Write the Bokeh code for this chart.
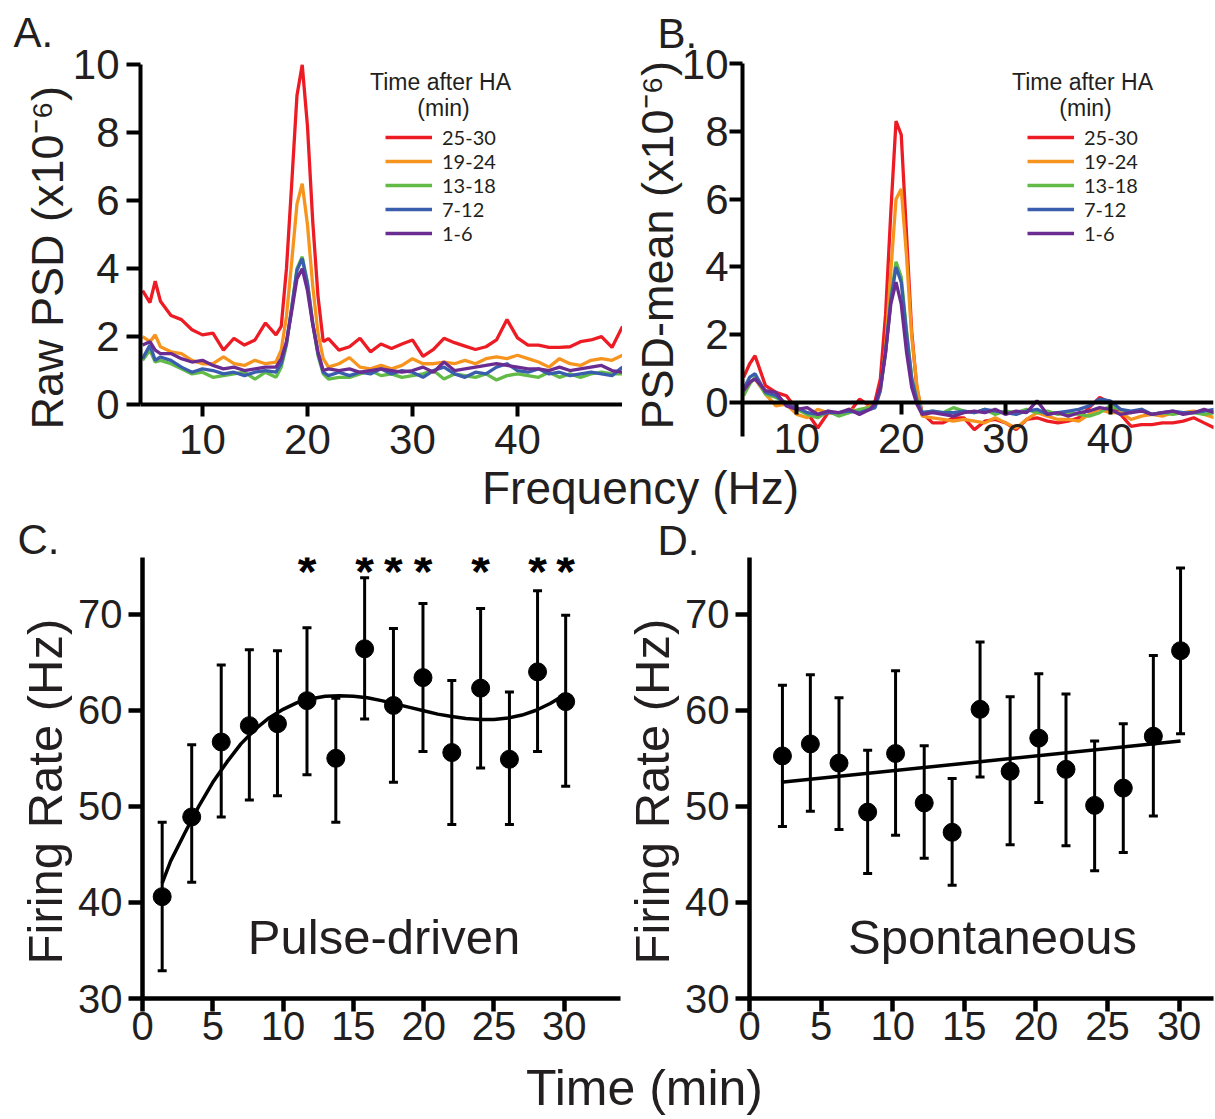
import math
from bokeh.plotting import figure
from bokeh.models import (Range1d, LinearAxis, FixedTicker, Label, Legend, LegendItem,
                          ColumnDataSource, Whisker, TeeHead)
from bokeh.layouts import column, row
from bokeh.embed import file_html
from bokeh.resources import INLINE
from bokeh.core.properties import value

# ---------------- Panel A / B : power spectral density ----------------
freq_a = [4.3, 5, 5.5, 6, 7, 8, 9, 10, 11, 12, 13, 14, 15, 16, 17,
          17.5, 18, 18.5, 19, 19.5, 20, 20.5, 21, 21.5,
          22, 23, 24, 25, 26, 27, 28, 29, 30, 31, 32, 33, 34, 35, 36, 37, 38, 39,
          40, 41, 42, 43, 44, 45, 46, 47, 48, 49, 50]
freq_b = [4.9, 5.5, 6, 7, 8, 9, 10, 11, 12, 13, 14, 15, 16, 17,
          17.5, 18, 18.5, 19, 19.5, 20, 20.5, 21, 21.5,
          22, 23, 24, 25, 26, 27, 28, 29, 30, 31, 32, 33, 34, 35, 36, 37, 38, 39,
          40, 41, 42, 43, 44, 45, 46, 47, 48, 49, 50]
series_labels = ["25-30", "19-24", "13-18", "7-12", "1-6"]

raw_25_30 = [3.35, 3.0, 3.63, 3.04, 2.62, 2.5, 2.2, 2.05, 2.1, 1.6, 1.95, 1.75, 1.9, 2.4, 2.05,
             2.3, 4.0, 6.5, 9.1, 10.0, 8.2, 5.4, 3.2, 1.85,
             1.94, 1.6, 1.7, 1.95, 1.55, 1.78, 1.65, 1.78, 1.9, 1.42, 1.62, 1.95, 1.82, 1.72, 1.62,
             1.7, 1.9, 2.5, 1.96, 1.75, 1.75, 1.68, 1.68, 1.7, 1.85, 1.9, 2.0, 1.68, 2.3]
raw_19_24 = [2.0, 1.85, 2.05, 1.7, 1.55, 1.5, 1.3, 1.2, 1.2, 1.4, 1.2, 1.15, 1.3, 1.2, 1.25,
             1.6, 2.6, 4.2, 5.9, 6.5, 5.3, 3.5, 2.1, 1.35,
             1.1, 1.2, 1.38, 1.1, 1.05, 1.15, 1.05, 1.15, 1.35, 1.2, 1.2, 1.25, 1.2, 1.3, 1.2,
             1.35, 1.4, 1.35, 1.45, 1.35, 1.25, 1.1, 1.35, 1.2, 1.15, 1.3, 1.35, 1.3, 1.45]
raw_13_18 = [1.3, 1.6, 1.25, 1.3, 1.2, 1.05, 0.9, 0.95, 0.8, 0.85, 0.9, 0.95, 0.75, 0.95, 0.8,
             1.1, 1.75, 2.85, 4.0, 4.35, 3.6, 2.4, 1.45, 0.9,
             0.75, 0.8, 0.8, 0.9, 1.0, 0.85, 0.9, 0.8, 0.85, 0.9, 1.0, 0.75, 0.9, 0.85, 0.8,
             0.9, 0.72, 0.85, 0.9, 0.85, 0.8, 0.95, 0.8, 0.9, 0.8, 0.9, 0.95, 0.9, 0.9]
raw_7_12 = [1.35, 1.75, 1.3, 1.4, 1.3, 1.1, 0.95, 1.05, 1.0, 0.9, 0.95, 0.85, 0.95, 1.0, 0.95,
            1.2, 1.8, 2.85, 3.95, 4.3, 3.55, 2.4, 1.5, 0.95,
            0.85, 0.95, 0.85, 0.95, 0.9, 1.05, 0.9, 1.0, 0.95, 0.8, 1.0, 1.1, 0.9, 0.8, 0.95,
            0.9, 1.1, 1.2, 1.0, 0.95, 1.05, 0.9, 0.95, 0.85, 0.9, 0.95, 0.9, 0.85, 1.1]
raw_1_6 = [1.75, 1.85, 1.6, 1.5, 1.5, 1.35, 1.25, 1.3, 1.15, 1.05, 1.1, 1.0, 1.05, 1.1, 1.1,
           1.35, 1.85, 2.75, 3.7, 4.0, 3.35, 2.35, 1.55, 1.0,
           1.05, 1.0, 1.05, 0.95, 1.0, 1.05, 1.0, 0.95, 1.0, 1.1, 0.95, 1.25, 1.0, 1.05, 1.1,
           1.15, 1.2, 1.15, 1.1, 1.05, 1.05, 1.0, 1.1, 1.0, 1.05, 1.1, 1.15, 1.0, 0.95]

dm_25_30 = [0.74, 1.15, 1.38, 0.5, 0.3, 0.2, -0.2, -0.3, -0.75, -0.3, -0.3, -0.3, 0.1, -0.1,
            0.05, 0.7, 2.6, 5.6, 8.3, 7.9, 5.0, 2.1, 0.4,
            -0.3, -0.6, -0.6, -0.45, -0.45, -0.8, -0.55, -0.5, -0.6, -0.8, -0.5, -0.45, -0.55,
            -0.6, -0.55, -0.45, -0.15, 0.15, 0.0, -0.35, -0.7, -0.65, -0.65, -0.6, -0.6, -0.55,
            -0.45, -0.6, -0.75]
dm_19_24 = [0.35, 0.6, 0.7, 0.25, -0.1, -0.05, -0.35, -0.45, -0.2, -0.3, -0.35, -0.2, -0.25, -0.1,
            -0.1, 0.33, 1.6, 3.85, 6.0, 6.3, 4.35, 1.95, 0.5,
            -0.4, -0.45, -0.5, -0.55, -0.5, -0.55, -0.6, -0.45, -0.6, -0.75, -0.5, -0.3, -0.4,
            -0.5, -0.5, -0.55, -0.35, -0.2, -0.3, -0.3, -0.5, -0.4, -0.35, -0.4, -0.3, -0.3,
            -0.25, -0.35, -0.45]
dm_13_18 = [0.2, 0.55, 0.75, 0.25, 0.15, 0.0, -0.2, -0.35, -0.45, -0.25, -0.4, -0.3, -0.2, -0.15,
            -0.1, 0.4, 1.5, 3.1, 4.15, 3.7, 2.15, 0.75, 0.1,
            -0.3, -0.25, -0.3, -0.15, -0.25, -0.3, -0.2, -0.35, -0.25, -0.3, -0.2, -0.3, -0.25,
            -0.35, -0.3, -0.35, -0.4, -0.3, -0.1, -0.2, -0.3, -0.2, -0.35, -0.3, -0.35, -0.3,
            -0.3, -0.35, -0.3]
dm_7_12 = [0.4, 0.75, 0.85, 0.3, 0.2, -0.05, -0.15, -0.3, -0.35, -0.3, -0.3, -0.25, -0.3, -0.2,
           -0.15, 0.37, 1.45, 3.0, 4.0, 3.55, 2.05, 0.7, 0.05,
           -0.3, -0.25, -0.3, -0.3, -0.25, -0.3, -0.2, -0.25, -0.3, -0.35, -0.25, -0.2, -0.35,
           -0.3, -0.25, -0.2, -0.1, 0.1, 0.05, -0.2, -0.25, -0.2, -0.35, -0.3, -0.25, -0.3,
           -0.3, -0.25, -0.2]
dm_1_6 = [0.35, 0.6, 0.7, 0.35, 0.3, -0.1, -0.2, -0.15, -0.35, -0.25, -0.3, -0.2, -0.35, -0.2,
          -0.03, 0.45, 1.5, 2.9, 3.55, 2.9, 1.5, 0.45, -0.05,
          -0.35, -0.3, -0.35, -0.4, -0.3, -0.25, -0.3, -0.2, -0.35, -0.25, -0.3, 0.05, -0.35,
          -0.3, -0.4, -0.3, -0.25, -0.15, -0.2, -0.35, -0.3, -0.25, -0.35, -0.3, -0.25, -0.35,
          -0.3, -0.2, -0.3]

psd_ticks_x = [10, 20, 30, 40]
psd_ticks_y = [0, 2, 4, 6, 8, 10]

# ---------------- Panel C / D : firing rate ----------------
time_c = [1.4, 3.5, 5.6, 7.6, 9.6, 11.7, 13.75, 15.8, 17.85, 19.95, 22.0, 24.05, 26.1, 28.1, 30.1]
rate_c = [40.6, 48.9, 56.7, 58.4, 58.6, 61.0, 55.0, 66.4, 60.5, 63.4, 55.6, 62.3, 54.9, 64.0, 60.9]
upper_c = [48.35, 56.4, 64.7, 66.3, 66.2, 68.6, 61.25, 73.8, 68.5, 71.1, 63.1, 70.6, 61.9, 72.45, 69.9]
lower_c = [32.9, 42.1, 48.9, 50.65, 51.1, 53.3, 48.35, 59.1, 52.5, 55.7, 48.1, 54.0, 48.1, 55.7, 52.1]
signif_c = [0, 0, 0, 0, 0, 1, 0, 1, 1, 1, 0, 1, 0, 1, 1]
fit_x_c = [1.4, 2, 3, 4, 5, 6, 7, 8, 9, 10, 11, 12, 13, 14, 15, 16, 17, 18, 19, 20,
           21, 22, 23, 24, 25, 26, 27, 28, 29, 30]
fit_y_c = [42.0, 44.3, 47.2, 50.0, 52.5, 54.6, 56.5, 58.0, 59.2, 60.1, 60.8, 61.2, 61.45, 61.5,
           61.45, 61.3, 61.0, 60.65, 60.3, 59.95, 59.6, 59.35, 59.15, 59.05, 59.05, 59.2, 59.5,
           60.0, 60.7, 61.6]

time_d = [2.3, 4.25, 6.25, 8.25, 10.2, 12.2, 14.15, 16.1, 18.2, 20.2, 22.1, 24.1, 26.1, 28.2, 30.1]
rate_d = [55.25, 56.5, 54.5, 49.4, 55.5, 50.35, 47.3, 60.1, 53.65, 57.1, 53.85, 50.1, 51.9, 57.3, 66.2]
upper_d = [62.6, 63.7, 61.3, 55.85, 64.1, 56.3, 52.9, 67.1, 61.4, 63.8, 61.7, 56.8, 58.6, 65.7, 74.8]
lower_d = [47.9, 49.5, 47.6, 43.0, 47.0, 44.6, 41.8, 53.05, 46.0, 50.4, 45.9, 43.3, 45.2, 49.0, 57.55]
fit_x_d = [2.2, 30.1]
fit_y_d = [52.5, 56.8]

time_ticks = [0, 5, 10, 15, 20, 25, 30]
rate_ticks = [30, 40, 50, 60, 70]

# ---------------- styling ----------------
INK = "#231f20"
FONT = "Liberation Sans"
COLORS = ["#ED1C24", "#F7941D", "#62BB46", "#3A5DAE", "#6B2C91"]
STAR_LEVEL = 74.95
NB = "\u00a0"


def base_fig(w, h, xr, yr, left, right, top, bottom, x_axis=True):
    p = figure(width=w, height=h, x_range=Range1d(*xr), y_range=Range1d(*yr),
               toolbar_location=None, output_backend="svg",
               min_border_left=left, min_border_right=right,
               min_border_top=top, min_border_bottom=bottom,
               x_axis_location="below" if x_axis else None)
    p.grid.visible = False
    p.outline_line_color = None
    p.background_fill_color = "white"
    p.border_fill_color = "white"
    return p


def style_axis(ax, ticks, size, tick_out, standoff, lw=4):
    ax.ticker = FixedTicker(ticks=ticks)
    ax.axis_line_width = lw
    ax.axis_line_color = "black"
    ax.major_tick_line_width = lw
    ax.major_tick_line_color = "black"
    ax.major_tick_out = tick_out
    ax.major_tick_in = 0
    ax.minor_tick_line_color = None
    ax.major_label_text_font = FONT
    ax.major_label_text_font_size = size
    ax.major_label_text_color = INK
    ax.major_label_standoff = standoff


def zero_axis(p):
    # x axis pinned at y = 0, ticks and labels hanging below the line
    ax = LinearAxis(fixed_location=0)
    p.add_layout(ax, "above")
    style_axis(ax, psd_ticks_x, "42px", 0, -50)
    ax.major_tick_in = 12
    return ax


def axis_title(ax, text, size, standoff):
    ax.axis_label = text
    ax.axis_label_text_font = FONT
    ax.axis_label_text_font_size = size
    ax.axis_label_text_font_style = "normal"
    ax.axis_label_text_color = INK
    ax.axis_label_standoff = standoff


def add_text(p, x, y, text, size, align="center", font=FONT, style="normal"):
    p.add_layout(Label(x=x, y=y, x_units="screen", y_units="screen", text=text,
                       text_font=font, text_font_size=size, text_color=INK,
                       text_font_style=style, text_align=align, text_baseline="middle"))


def psd_panel(p, freqs, series, legend_loc, title_x, title_y):
    items = []
    for lab, ys, col in zip(series_labels, series, COLORS):
        r = p.line(freqs, ys, line_color=col, line_width=3.3)
        items.append(LegendItem(label=lab, renderers=[r]))
    leg = Legend(items=items, location=legend_loc, glyph_width=47, glyph_height=24,
                 label_height=24, label_standoff=10, spacing=0, padding=0, margin=0,
                 border_line_color=None, background_fill_alpha=0,
                 label_text_font="Lato", label_text_font_size="20px", label_text_color=INK)
    p.add_layout(leg)
    add_text(p, title_x, title_y, "Time after HA", "23px")
    add_text(p, title_x + 3, title_y - 26.5, "(min)", "23px")


# Panel A  (frame: y 61..466 px, value 0 at 404 px)
pA = base_fig(622, 417, (4.1, 50.0), (-1.826, 10.1), 140, 0, 12, 0, x_axis=False)
psd_panel(pA, freq_a, [raw_25_30, raw_19_24, raw_13_18, raw_7_12, raw_1_6], (245, 221), 300, 385)
zero_axis(pA)
style_axis(pA.yaxis[0], psd_ticks_y, "42px", 14, 7)
pA.yaxis[0].bounds = (0, 10)
axis_title(pA.yaxis[0], NB + "Raw PSD (x10\u207b\u2076)", "45px", -3)

# Panel B  (frame: y 61..466 px, value 0 at 402 px)
pB = base_fig(593, 417, (4.8, 49.9), (-1.887, 10.06), 120, 2, 12, 0, x_axis=False)
psd_panel(pB, freq_b, [dm_25_30, dm_19_24, dm_13_18, dm_7_12, dm_1_6], (285, 221), 340, 385)
zero_axis(pB)
style_axis(pB.yaxis[0], psd_ticks_y, "42px", 13, 1)
pB.yaxis[0].bounds = (-1, 10)
axis_title(pB.yaxis[0], NB * 3 + "PSD-mean (x10\u207b\u2076)", "45px", -4)


def rate_panel(p, t, r, up, lo, fx, fy, name, name_x):
    src = ColumnDataSource(dict(x=t, y=r, upper=up, lower=lo))
    p.line(fx, fy, line_color="black", line_width=3.5)
    p.add_layout(Whisker(base="x", upper="upper", lower="lower", source=src,
                         line_color="black", line_width=3,
                         upper_head=TeeHead(size=9, line_width=3, line_color="black"),
                         lower_head=TeeHead(size=9, line_width=3, line_color="black")))
    p.scatter("x", "y", source=src, size=18, color="black")
    style_axis(p.xaxis[0], time_ticks, "40px", 13, 0, lw=4.5)
    style_axis(p.yaxis[0], rate_ticks, "40px", 14, 6, lw=4.5)
    axis_title(p.yaxis[0], "Firing Rate (Hz)" + NB * 2, "49px", 3)
    add_text(p, name_x, 61.5, name, "49px")


# Panel C
pC = base_fig(622, 501, (0, 34), (30, 75.9), 142, 2, 0, 60)
rate_panel(pC, time_c, rate_c, upper_c, lower_c, fit_x_c, fit_y_c, "Pulse-driven", 241.5)
star_x = [t for t, s in zip(time_c, signif_c) if s]
pC.text(x=star_x, y=[STAR_LEVEL] * len(star_x), text=["*"] * len(star_x),
        text_font=value(FONT), text_font_size="48px", text_font_style="bold",
        text_color="black", text_align="center", text_baseline="middle", y_offset=5)

# Panel D
pD = base_fig(593, 501, (0, 32.4), (30, 75.9), 122, 2, 0, 60)
rate_panel(pD, time_d, rate_d, upper_d, lower_d, fit_x_d, fit_y_d, "Spontaneous", 243)


def text_strip(w, h, texts):
    p = figure(width=w, height=h, x_range=Range1d(0, 1), y_range=Range1d(0, 1),
               toolbar_location=None, output_backend="svg", min_border=0,
               x_axis_location=None, y_axis_location=None)
    p.grid.visible = False
    p.outline_line_color = None
    for (x, y, t, size, align) in texts:
        add_text(p, x, y, t, size, align=align)
    return p


head_fig = text_strip(1215, 49, [(13, 17, "A.", "42px", "left"),
                                 (657, 16.5, "B.", "42px", "left")])
freq_fig = text_strip(1215, 91, [(640, 69.5, "Frequency (Hz)", "46px", "center"),
                                 (17, 18, "C.", "42px", "left"),
                                 (657, 17, "D.", "42px", "left")])
time_fig = text_strip(1215, 61, [(644, 31.5, "Time (min)", "50px", "center")])

layout = column(head_fig, row(pA, pB, spacing=0), freq_fig, row(pC, pD, spacing=0), time_fig,
                spacing=0)
open("out.html", "w").write(file_html(layout, INLINE))
